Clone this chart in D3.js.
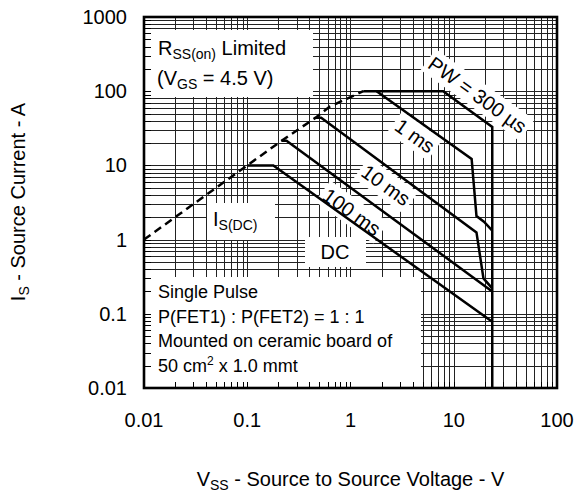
<!DOCTYPE html>
<html>
<head>
<meta charset="utf-8">
<script src="https://cdn.jsdelivr.net/npm/d3@7"></script>
<style>
  body { margin: 0; background: #fff; }
  svg { display: block; }
  text { font-family: "Liberation Sans", Arial, sans-serif; fill: #000; }
</style>
</head>
<body>
<div id="vis"></div>
<script>
const width = 576;
const height = 493;

// axis ticks
const xTicks = [0.01, 0.1, 1, 10, 100];
const yTicks = [0.01, 0.1, 1, 10, 100, 1000];

// curves: [V, A]
const rdsLimit = [[0.01, 1], [0.1, 10], [0.215, 21.5], [0.46, 44], [0.63, 62], [1.33, 100]];
const pw300us = [[1.33, 100], [7.9, 100], [23.6, 33], [23.6, 0.01]];
const pw1ms = [[1.79, 100], [14.9, 12.2], [16.6, 2.08], [19.6, 1.74], [23.6, 1.32]];
const pw10ms = [[0.46, 44], [0.52, 44], [16.6, 1.25], [19.4, 0.30], [23.6, 0.22]];
const pw100ms = [[0.215, 21.5], [0.24, 21.5], [23.6, 0.2]];
const dcLine = [[0.1, 10], [0.179, 10], [23.6, 0.078]];

// rotated curve labels: [text, V, A]
const curveLabels = [
  ["PW = 300 \u00b5s", 17, 89],
  ["1 ms", 4.2, 25],
  ["10 ms", 2.2, 5.4],
  ["100 ms", 1.03, 2.36]
];

const noteLines = ["Single Pulse", "P(FET1) : P(FET2) = 1 : 1", "Mounted on ceramic board of"];

const plot = { left: 144, right: 557, top: 17, bottom: 388 };

const x = d3.scaleLog().domain([0.01, 100]).range([plot.left, plot.right]);
const y = d3.scaleLog().domain([0.01, 1000]).range([plot.bottom, plot.top]);

const svg = d3.select("#vis").append("svg")
  .attr("width", width)
  .attr("height", height);

// all the grid values, 1..9 per decade
function gridValues (lo, hi) {
  const out = [];
  for (let d = lo; d < hi * 0.999; d *= 10) {
    for (let k = 1; k <= 9; k++) out.push(d * k);
  }
  out.push(hi);
  return out;
}
const xGrid = gridValues(0.01, 100);
const yGrid = gridValues(0.01, 1000);

const grid = svg.append("g")
  .attr("stroke", "#222")
  .attr("stroke-width", 1)
  .attr("shape-rendering", "crispEdges");
grid.selectAll("line.v").data(xGrid).enter().append("line")
  .attr("class", "v")
  .attr("x1", d => Math.round(x(d)) + 0.5).attr("x2", d => Math.round(x(d)) + 0.5)
  .attr("y1", plot.top).attr("y2", plot.bottom);
grid.selectAll("line.h").data(yGrid).enter().append("line")
  .attr("class", "h")
  .attr("y1", d => Math.round(y(d)) + 0.5).attr("y2", d => Math.round(y(d)) + 0.5)
  .attr("x1", plot.left).attr("x2", plot.right);

// white boxes behind the texts
const boxes = [
  [145, 30, 313, 97],
  [207, 203, 275, 240],
  [305, 237, 366, 267],
  [145, 277, 421, 387]
];
svg.append("g").selectAll("rect").data(boxes).enter().append("rect")
  .attr("x", d => d[0]).attr("y", d => d[1])
  .attr("width", d => d[2] - d[0]).attr("height", d => d[3] - d[1])
  .attr("fill", "#fff");

const labelBg = svg.append("g");

// inside ticks on left and bottom
const ticks = svg.append("g").attr("stroke", "#000").attr("stroke-width", 1)
  .attr("shape-rendering", "crispEdges");
ticks.selectAll("line.l").data(yGrid).enter().append("line")
  .attr("y1", d => Math.round(y(d)) + 0.5).attr("y2", d => Math.round(y(d)) + 0.5)
  .attr("x1", plot.left).attr("x2", plot.left + 7);
ticks.selectAll("line.b").data(xGrid).enter().append("line")
  .attr("x1", d => Math.round(x(d)) + 0.5).attr("x2", d => Math.round(x(d)) + 0.5)
  .attr("y1", plot.bottom).attr("y2", plot.bottom - 6);

// frame
svg.append("rect")
  .attr("x", plot.left).attr("y", plot.top)
  .attr("width", plot.right - plot.left).attr("height", plot.bottom - plot.top)
  .attr("fill", "none").attr("stroke", "#000").attr("stroke-width", 2.6);

const line = d3.line().x(d => x(d[0])).y(d => y(d[1]));

svg.append("path").datum(rdsLimit)
  .attr("d", line).attr("fill", "none")
  .attr("stroke", "#000").attr("stroke-width", 2.5)
  .attr("stroke-dasharray", "8,5");

svg.append("g").selectAll("path")
  .data([pw300us, pw1ms, pw10ms, pw100ms, dcLine])
  .enter().append("path")
  .attr("d", line).attr("fill", "none")
  .attr("stroke", "#000").attr("stroke-width", 2.5)
  .attr("stroke-linejoin", "miter");

// rotated labels with white box behind
const angle = Math.atan((y(1) - y(10)) / (x(10) - x(1))) * 180 / Math.PI;
const labelFg = svg.append("g");
curveLabels.forEach(l => {
  const tr = `translate(${x(l[1])},${y(l[2])}) rotate(${angle})`;
  const t = labelFg.append("g").attr("transform", tr)
    .append("text")
    .attr("text-anchor", "middle")
    .attr("y", 7)
    .attr("font-size", 20)
    .text(l[0]);
  const bb = t.node().getBBox();
  labelBg.append("rect")
    .attr("transform", tr)
    .attr("x", bb.x - 3).attr("y", bb.y - 2)
    .attr("width", bb.width + 6).attr("height", bb.height + 4)
    .attr("fill", "#fff");
});

// tick labels
svg.append("g").selectAll("text").data(yTicks).enter().append("text")
  .attr("x", 127).attr("y", d => y(d) + 7)
  .attr("text-anchor", "end").attr("font-size", 20)
  .text(d => d3.format("~g")(d));
svg.append("g").selectAll("text").data(xTicks).enter().append("text")
  .attr("x", d => x(d)).attr("y", 427)
  .attr("text-anchor", "middle").attr("font-size", 20)
  .text(d => d3.format("~g")(d));

// axis titles
const yt = svg.append("text")
  .attr("transform", "translate(25,202) rotate(-90)")
  .attr("text-anchor", "middle").attr("font-size", 20);
yt.append("tspan").text("I");
yt.append("tspan").attr("font-size", 14).attr("dy", 4).text("S");
yt.append("tspan").attr("dy", -4).text(" - Source Current - A");

const xt = svg.append("text")
  .attr("x", (plot.left + plot.right) / 2).attr("y", 486)
  .attr("text-anchor", "middle").attr("font-size", 20);
xt.append("tspan").text("V");
xt.append("tspan").attr("font-size", 14).attr("dy", 4).text("SS");
xt.append("tspan").attr("dy", -4).text(" - Source to Source Voltage - V");

// annotation texts
const r1 = svg.append("text").attr("x", 158).attr("y", 55).attr("font-size", 20);
r1.append("tspan").text("R");
r1.append("tspan").attr("font-size", 14).attr("dy", 4).text("SS(on)");
r1.append("tspan").attr("dy", -4).text(" Limited");

const r2 = svg.append("text").attr("x", 157).attr("y", 85).attr("font-size", 20);
r2.append("tspan").text("(V");
r2.append("tspan").attr("font-size", 14).attr("dy", 4).text("GS");
r2.append("tspan").attr("dy", -4).text(" = 4.5 V)");

const isdc = svg.append("text").attr("x", 213).attr("y", 226).attr("font-size", 20);
isdc.append("tspan").text("I");
isdc.append("tspan").attr("font-size", 14).attr("dy", 4).text("S(DC)");

svg.append("text").attr("x", 335).attr("y", 259)
  .attr("text-anchor", "middle").attr("font-size", 20).text("DC");

svg.append("g").selectAll("text").data(noteLines).enter().append("text")
  .attr("x", 158).attr("y", (d, i) => 298 + i * 24.5)
  .attr("font-size", 18)
  .text(d => d);
const n4 = svg.append("text").attr("x", 158).attr("y", 372).attr("font-size", 18);
n4.append("tspan").text("50 cm");
n4.append("tspan").attr("font-size", 12).attr("dy", -7).text("2");
n4.append("tspan").attr("dy", 7).text(" x 1.0 mmt");
</script>
</body>
</html>
